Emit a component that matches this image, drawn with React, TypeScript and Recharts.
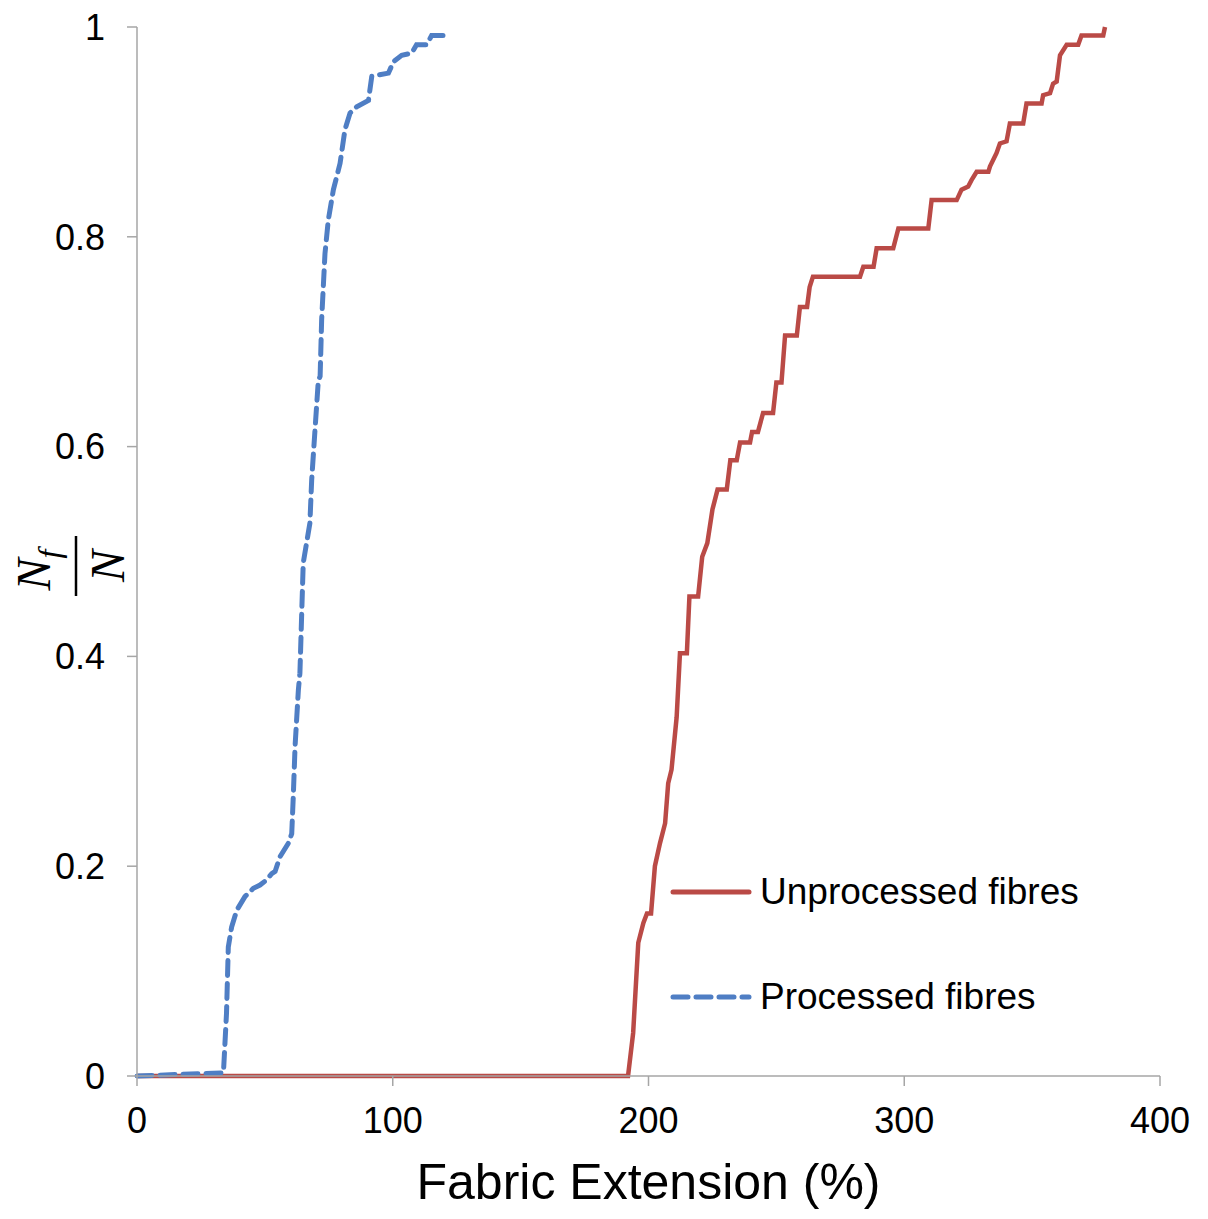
import React from 'react';
import { LineChart, Line, XAxis, YAxis, Label } from 'recharts';

// fabric extension (%) vs fraction of broken fibres
const unprocessedExt = [
  0, 192, 194, 196, 198, 199.4, 201, 202.5, 204.5, 206.5, 207.7, 209, 211, 212.3, 215, 216, 219.4, 221, 223, 225,
  227, 230.6, 232, 234.5, 235.8, 239.7, 240.5, 242.8, 244.8, 248.7, 250, 252, 253.4, 258, 259.2, 262, 263, 264.3,
  282.7, 284, 288, 289.2, 295.7, 297.7, 309.4, 310.7, 320.5, 322.4, 325, 326.3, 328.3, 332.9, 333.5, 336.1, 337.4,
  340, 341.3, 346.5, 347.8, 353.7, 354.3, 357, 358.2, 359.6, 360.9, 363.5, 368, 369.3, 377.8, 378.5,
];
const unprocessedFrac = [
  0, 0, 0.041, 0.127, 0.146, 0.155, 0.155, 0.2, 0.222, 0.241, 0.279, 0.292, 0.342, 0.403, 0.403, 0.457, 0.457, 0.495,
  0.508, 0.54, 0.559, 0.559, 0.587, 0.587, 0.604, 0.604, 0.614, 0.614, 0.632, 0.632, 0.661, 0.661, 0.706, 0.706,
  0.733, 0.733, 0.752, 0.762, 0.762, 0.7715, 0.7715, 0.789, 0.789, 0.808, 0.808, 0.835, 0.835, 0.845, 0.848, 0.854,
  0.862, 0.862, 0.867, 0.88, 0.889, 0.891, 0.908, 0.908, 0.927, 0.927, 0.935, 0.937, 0.946, 0.948, 0.973, 0.983,
  0.983, 0.992, 0.992, 1.0,
];

const processedExt = [
  0, 33.8, 35.0, 35.7, 37.0, 39.0, 42.2, 45.5, 48.1, 50.7, 52.7, 54, 55.9, 59.2, 60.5, 61.1, 61.8, 63.1, 63.7, 64.4,
  65.0, 66.3, 67.6, 68.3, 69.6, 70.9, 71.6, 72.2, 73.5, 74.8, 76.8, 79.4, 81.3, 83.3, 85.9, 90.5, 91.8, 98.3, 100.3,
  103.5, 107.4, 109.3, 113.3, 115.2, 119.7,
];
const processedFrac = [
  0, 0.003, 0.06, 0.123, 0.142, 0.158, 0.171, 0.179, 0.182, 0.187, 0.193, 0.195, 0.209, 0.222, 0.231, 0.266, 0.314,
  0.368, 0.384, 0.441, 0.489, 0.508, 0.527, 0.568, 0.616, 0.663, 0.667, 0.721, 0.784, 0.816, 0.845, 0.87, 0.902,
  0.918, 0.924, 0.93, 0.953, 0.956, 0.967, 0.973, 0.975, 0.983, 0.983, 0.992, 0.992,
];

const xTicks = [0, 100, 200, 300, 400];
const yTicks = [0, 0.2, 0.4, 0.6, 0.8, 1];

const unprocessed = unprocessedExt.map((x, i) => ({ x, y: unprocessedFrac[i] }));
const processed = processedExt.map((x, i) => ({ x, y: processedFrac[i] }));

const RED = '#BA4A46';
const BLUE = '#4F7EC4';
const AXIS = '#A6A6A6';
const FONT = '"Liberation Sans", Arial, sans-serif';
const DASH = '15 8';

const FractionLabel = () => (
  <g transform="translate(76, 566) rotate(-90)" fontFamily='"Liberation Serif", "DejaVu Serif", serif' fontStyle="italic" fill="#000">
    <text x={-4} y={-26} textAnchor="middle" fontSize={48}>
      N<tspan fontSize={32} dy={10}>f</tspan>
    </text>
    <line x1={-30} x2={30} y1={0} y2={0} stroke="#000" strokeWidth={2.5} />
    <text x={0} y={48} textAnchor="middle" fontSize={48}>N</text>
  </g>
);

const LegendBox = () => (
  <div style={{ position: 'absolute', left: 670, top: 862, fontFamily: FONT, fontSize: 37, color: '#000', whiteSpace: 'nowrap' }}>
    <div style={{ display: 'flex', alignItems: 'center', height: 60 }}>
      <svg width={82} height={10}>
        <line x1={3} x2={79} y1={5} y2={5} stroke={RED} strokeWidth={5} strokeLinecap="round" />
      </svg>
      <span style={{ marginLeft: 8 }}>Unprocessed fibres</span>
    </div>
    <div style={{ display: 'flex', alignItems: 'center', height: 60, marginTop: 45 }}>
      <svg width={82} height={10}>
        <line x1={3} x2={79} y1={5} y2={5} stroke={BLUE} strokeWidth={5} strokeLinecap="round" strokeDasharray={DASH} />
      </svg>
      <span style={{ marginLeft: 8 }}>Processed fibres</span>
    </div>
  </div>
);

export default function App() {
  return (
    <div style={{ position: 'absolute', left: 0, top: 0, width: 1208, height: 1219, background: '#fff' }}>
      <LineChart width={1208} height={1219} margin={{ top: 27, right: 48, left: 0, bottom: 0 }}>
        <XAxis
          type="number"
          dataKey="x"
          domain={[0, 400]}
          ticks={xTicks}
          stroke={AXIS}
          strokeWidth={1.5}
          tickSize={10}
          tickMargin={21}
          height={143}
          tick={{ fill: '#000', fontSize: 36, fontFamily: FONT }}
        >
          <Label
            value="Fabric Extension  (%)"
            position="insideBottom"
            offset={20}
            style={{ fill: '#000', fontSize: 50, fontFamily: FONT, whiteSpace: 'pre' }}
          />
        </XAxis>
        <YAxis
          type="number"
          dataKey="y"
          domain={[0, 1]}
          ticks={yTicks}
          stroke={AXIS}
          strokeWidth={1.5}
          tickSize={10}
          tickMargin={22}
          width={137}
          tick={{ fill: '#000', fontSize: 36, fontFamily: FONT }}
          label={{ content: () => <FractionLabel /> }}
        />
        <Line
          data={unprocessed}
          dataKey="y"
          type="linear"
          stroke={RED}
          strokeWidth={4.5}
          dot={false}
          activeDot={false}
          isAnimationActive={false}
        />
        <Line
          data={processed}
          dataKey="y"
          type="linear"
          stroke={BLUE}
          strokeWidth={5}
          strokeDasharray={DASH}
          strokeLinecap="round"
          dot={false}
          activeDot={false}
          isAnimationActive={false}
        />
      </LineChart>
      <LegendBox />
    </div>
  );
}
